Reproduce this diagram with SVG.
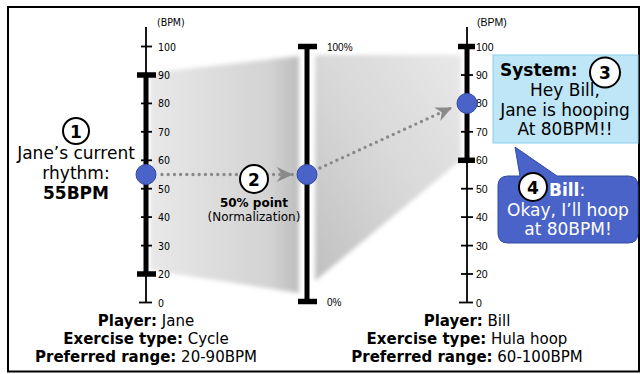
<svg xmlns="http://www.w3.org/2000/svg" width="640" height="374" viewBox="0 0 640 374">
<style>
.t{font-family:"DejaVu Sans",Verdana,sans-serif;fill:#000}
.b{font-weight:bold}
.ax{stroke:#000;fill:none}
.thin{stroke-width:1.8}
.thick{stroke-width:5}
.cap{stroke-width:5.5}
.tl{font-family:"Liberation Sans Narrow","DejaVu Sans Condensed","Liberation Sans",sans-serif;font-size:10.5px;fill:#000}
.tr{font-family:"Liberation Sans",Arial,sans-serif;font-size:10.5px;fill:#000}
.pc{font-family:"Liberation Sans",Arial,sans-serif;font-size:10px;fill:#000}
.dot{stroke:#8a8a8a;stroke-width:3.4;stroke-linecap:round;stroke-dasharray:0 6.2;fill:none}
.pt{fill:#4a63c8;stroke:#33489e;stroke-width:1}
.num{fill:#fff;stroke:#000;stroke-width:2}
.numt{font-family:"DejaVu Sans",Verdana,sans-serif;font-weight:bold;font-size:17px;fill:#000}
.w{fill:#fff}
</style>
<defs>
<marker id="ah" markerUnits="userSpaceOnUse" markerWidth="20" markerHeight="20" refX="14" refY="7" orient="auto" viewBox="0 0 16 14">
<path d="M14,7 L1,1 L5,7 L1,13 Z" fill="#8a8a8a"/>
</marker>
<linearGradient id="gL" x1="0" y1="0" x2="1" y2="0">
<stop offset="0" stop-color="#e8e8e8"/>
<stop offset="0.8" stop-color="#d3d3d3"/>
<stop offset="1" stop-color="#bdbdbd"/>
</linearGradient>
<linearGradient id="gR" x1="0" y1="1" x2="1" y2="0">
<stop offset="0" stop-color="#c0c0c0"/>
<stop offset="0.5" stop-color="#d8d8d8"/>
<stop offset="1" stop-color="#e8e8e8"/>
</linearGradient>
<filter id="soft" x="-10%" y="-10%" width="120%" height="120%">
<feGaussianBlur stdDeviation="2"/>
</filter>
</defs>

<rect x="8" y="7" width="631" height="364.5" fill="#fff" stroke="#000" stroke-width="2"/>

<g id="shading">
<polygon points="150,73 299,56 299,293 150,270" fill="url(#gL)" filter="url(#soft)"/>
<polygon points="315,55 461,55 461,160 315,281" fill="url(#gR)" filter="url(#soft)"/>
</g>

<g id="axis-jane">
<text class="tl" x="157" y="26" font-size="9.5">(BPM)</text>
<line class="ax thin" x1="146" y1="27" x2="146" y2="302.5"/>
<line class="ax thick" x1="146" y1="75" x2="146" y2="274"/>
<line class="ax cap" x1="137" y1="75" x2="156" y2="75"/>
<line class="ax cap" x1="137" y1="274" x2="156" y2="274"/>
<g class="ax thin">
<line x1="141" y1="46.5" x2="152" y2="46.5"/>
<line x1="141" y1="103.4" x2="152" y2="103.4"/>
<line x1="141" y1="131.8" x2="152" y2="131.8"/>
<line x1="141" y1="160.3" x2="152" y2="160.3"/>
<line x1="141" y1="188.7" x2="152" y2="188.7"/>
<line x1="141" y1="217.1" x2="152" y2="217.1"/>
<line x1="141" y1="245.6" x2="152" y2="245.6"/>
<line x1="139" y1="302.5" x2="152" y2="302.5"/>
</g>
<text class="tl" x="158" y="50.5">100</text>
<text class="tl" x="158" y="79">90</text>
<text class="tl" x="158" y="107.4">80</text>
<text class="tl" x="158" y="135.8">70</text>
<text class="tl" x="158" y="164.3">60</text>
<text class="tl" x="158" y="192.7">50</text>
<text class="tl" x="158" y="221.1">40</text>
<text class="tl" x="158" y="249.6">30</text>
<text class="tl" x="158" y="278">20</text>
<text class="tl" x="158" y="306.5">0</text>
</g>

<g id="axis-norm">
<line class="ax thick" x1="307" y1="46.5" x2="307" y2="301.5"/>
<line class="ax cap" x1="298" y1="46.5" x2="317" y2="46.5"/>
<line class="ax cap" x1="298" y1="301.5" x2="317" y2="301.5"/>
<text class="pc" x="327" y="51">100%</text>
<text class="pc" x="327" y="306">0%</text>
</g>

<g id="axis-bill">
<text class="tr" x="477" y="26" font-size="9.5">(BPM)</text>
<line class="ax thin" x1="467" y1="27" x2="467" y2="302.5"/>
<line class="ax thick" x1="467" y1="46.5" x2="467" y2="160.3"/>
<line class="ax cap" x1="458" y1="46.5" x2="475" y2="46.5"/>
<line class="ax cap" x1="458" y1="160.3" x2="475" y2="160.3"/>
<g class="ax thin">
<line x1="461" y1="75" x2="473" y2="75"/>
<line x1="461" y1="103.4" x2="473" y2="103.4"/>
<line x1="461" y1="131.8" x2="473" y2="131.8"/>
<line x1="461" y1="188.7" x2="473" y2="188.7"/>
<line x1="461" y1="217.1" x2="473" y2="217.1"/>
<line x1="461" y1="245.6" x2="473" y2="245.6"/>
<line x1="461" y1="274" x2="473" y2="274"/>
<line x1="459" y1="302.5" x2="473" y2="302.5"/>
</g>
<text class="tr" x="476" y="50.5">100</text>
<text class="tr" x="476" y="79">90</text>
<text class="tr" x="476" y="107.4">80</text>
<text class="tr" x="476" y="135.8">70</text>
<text class="tr" x="476" y="164.3">60</text>
<text class="tr" x="476" y="192.7">50</text>
<text class="tr" x="476" y="221.1">40</text>
<text class="tr" x="476" y="249.6">30</text>
<text class="tr" x="476" y="278">20</text>
<text class="tr" x="476" y="306.5">0</text>
</g>

<g id="connectors">
<line class="dot" x1="162" y1="174.5" x2="293" y2="174.5" marker-end="url(#ah)"/>
<line class="dot" x1="320" y1="168" x2="452" y2="107.5" marker-end="url(#ah)"/>
</g>

<g id="point-jane"><circle class="pt" cx="146" cy="174.5" r="10"/></g>
<g id="point-norm"><circle class="pt" cx="307" cy="174.5" r="10"/></g>
<g id="point-bill"><circle class="pt" cx="467" cy="103.4" r="10"/></g>

<g id="step1">
<circle class="num" cx="76" cy="131" r="13"/>
<text class="numt" x="76" y="137.5" text-anchor="middle">1</text>
<text class="t" font-size="17" x="76" y="159" text-anchor="middle">Jane’s current</text>
<text class="t" font-size="17" x="76" y="179" text-anchor="middle">rhythm:</text>
<text class="t b" font-size="17" x="76" y="199" text-anchor="middle">55BPM</text>
</g>

<g id="step2">
<circle class="num" cx="254" cy="179" r="14"/>
<text class="numt" x="254" y="185.5" text-anchor="middle">2</text>
<text class="t b" font-size="12" x="254" y="207" text-anchor="middle">50% point</text>
<text class="t" font-size="12" x="254" y="221" text-anchor="middle">(Normalization)</text>
</g>

<g id="step3">
<rect x="493" y="55" width="145" height="88" fill="#bfe6f7" stroke="#8ccfee" stroke-width="1"/>
<text class="t b" font-size="17" x="500" y="76">System:</text>
<circle class="num" cx="605" cy="72.5" r="15"/>
<text class="numt" x="605" y="79" text-anchor="middle">3</text>
<text class="t" font-size="17" x="565" y="96" text-anchor="middle">Hey Bill,</text>
<text class="t" font-size="17" x="565" y="116" text-anchor="middle">Jane is hooping</text>
<text class="t" font-size="17" x="565" y="135" text-anchor="middle">At 80BPM!!</text>
</g>

<g id="step4">
<path d="M508,176 L520,176 L515,147 L557,176 L628,176 Q638,176 638,186 L638,233 Q638,243 628,243 L508,243 Q498,243 498,233 L498,186 Q498,176 508,176 Z" fill="#4a63c8" stroke="#2f4aa0" stroke-width="1"/>
<circle class="num" cx="533" cy="187" r="14"/>
<text class="numt" x="533" y="193.5" text-anchor="middle">4</text>
<text class="t w" font-size="17" x="549" y="196"><tspan font-weight="bold">Bill</tspan>:</text>
<text class="t w" font-size="17" x="568" y="216" text-anchor="middle">Okay, I’ll hoop</text>
<text class="t w" font-size="17" x="568" y="235" text-anchor="middle">at 80BPM!</text>
</g>

<g id="info-jane">
<text class="t" font-size="15" x="146" y="326" text-anchor="middle"><tspan font-weight="bold">Player:</tspan> Jane</text>
<text class="t" font-size="15" x="146" y="344" text-anchor="middle"><tspan font-weight="bold">Exercise type:</tspan> Cycle</text>
<text class="t" font-size="15" x="146" y="362" text-anchor="middle"><tspan font-weight="bold">Preferred range:</tspan> 20-90BPM</text>
</g>

<g id="info-bill">
<text class="t" font-size="15" x="467" y="326" text-anchor="middle"><tspan font-weight="bold">Player:</tspan> Bill</text>
<text class="t" font-size="15" x="467" y="344" text-anchor="middle"><tspan font-weight="bold">Exercise type:</tspan> Hula hoop</text>
<text class="t" font-size="15" x="467" y="362" text-anchor="middle"><tspan font-weight="bold">Preferred range:</tspan> 60-100BPM</text>
</g>
</svg>
